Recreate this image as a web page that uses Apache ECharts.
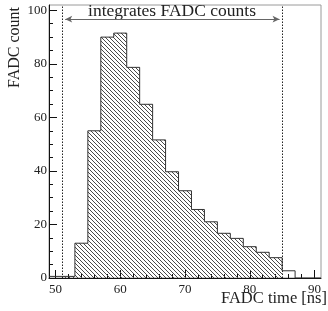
<!DOCTYPE html>
<html>
<head>
<meta charset="utf-8">
<script src="https://cdn.jsdelivr.net/npm/echarts@6/dist/echarts.min.js"></script>
<style>
  body, html { margin: 0; padding: 0; width: 100%; height: 100%; overflow: hidden; background: #fff; }
  #chart { width: 328px; height: 311px; }
</style>
</head>
<body>
<div id="chart"></div>
<script>
// histogram: 2 ns bins from 49 to 91 ns
var binEdges = [49, 51, 53, 55, 57, 59, 61, 63, 65, 67, 69, 71, 73, 75, 77, 79, 81, 83, 85, 87, 89, 91];
var binCounts = [0.6, 0.6, 13, 55, 90, 91.5, 78.7, 64.9, 51.6, 39.7, 32.6, 25.6, 21, 16.7, 14.8, 11.7, 9.6, 7.6, 2.7, 0, 0];
// integration window (dotted lines + arrow)
var windowEdges = [51, 85];
var arrowEnds = [51.5, 84.6];
var arrowLevel = 96.7;
var windowText = 'integrates FADC counts';
// ticks
var xMajor = [50, 60, 70, 80, 90];
var xMinor = [50, 52, 54, 56, 58, 60, 62, 64, 66, 68, 70, 72, 74, 76, 78, 80, 82, 84, 86, 88, 90];
var yMajor = [0, 20, 40, 60, 80, 100];
var yMinor = [0, 5, 10, 15, 20, 25, 30, 35, 40, 45, 50, 55, 60, 65, 70, 75, 80, 85, 90, 95, 100];

var serif = "'Liberation Serif', 'DejaVu Serif', serif";

// step outline over all bins
var outline = binEdges.slice(0, -1).map(function (e, i) { return [e, binCounts[i]]; });
outline.push([binEdges[binEdges.length - 1], binCounts[binCounts.length - 1]]);

// hatched part: bins inside the window
var hatched = [];
binEdges.slice(0, -1).forEach(function (e, i) {
  if (e >= windowEdges[0] && binEdges[i + 1] <= windowEdges[1]) hatched.push([e, binCounts[i]]);
});
hatched.push([windowEdges[1], hatched[hatched.length - 1][1]]);

// "\\\\" hatch pattern
var pat = document.createElement('canvas');
pat.width = 4; pat.height = 4;
var ctx = pat.getContext('2d');
ctx.fillStyle = '#4a4a4a';
for (var i = 0; i < 4; i++) ctx.fillRect(i, i, 1, 1);

var chart = echarts.init(document.getElementById('chart'));
chart.setOption({
  animation: false,
  grid: { left: 49, right: 7, top: 5, bottom: 33, show: true, borderColor: '#9a9a9a', borderWidth: 1 },
  xAxis: [{
    type: 'value', min: 49, max: 91,
    axisLine: { show: true, lineStyle: { color: '#111' } },
    axisTick: { show: true, inside: true, length: 8, customValues: xMajor, lineStyle: { color: '#111' } },
    axisLabel: { customValues: xMajor, margin: 5, fontFamily: serif, fontSize: 13, color: '#222' },
    splitLine: { show: false }
  }, {
    type: 'value', min: 49, max: 91, position: 'bottom',
    axisLine: { show: false },
    axisTick: { show: true, inside: true, length: 4, customValues: xMinor, lineStyle: { color: '#111' } },
    axisLabel: { show: false },
    splitLine: { show: false }
  }],
  yAxis: [{
    type: 'value', min: 0, max: 102,
    axisLine: { show: true, lineStyle: { color: '#111' } },
    axisTick: { show: true, inside: true, length: 8, customValues: yMajor, lineStyle: { color: '#111' } },
    axisLabel: { customValues: yMajor, margin: 2, fontFamily: serif, fontSize: 13, color: '#222' },
    splitLine: { show: false }
  }, {
    type: 'value', min: 0, max: 102, position: 'left',
    axisLine: { show: false },
    axisTick: { show: true, inside: true, length: 4, customValues: yMinor, lineStyle: { color: '#111' } },
    axisLabel: { show: false },
    splitLine: { show: false }
  }],
  graphic: [{
    id: 'yname', type: 'text', x: 15, y: 7, rotation: Math.PI / 2,
    style: { text: 'FADC count', font: '16px ' + serif, fill: '#222', align: 'right', verticalAlign: 'middle' }
  }, {
    id: 'xname', type: 'text', right: 1, top: 290,
    style: { text: 'FADC time [ns]', font: '16.5px ' + serif, fill: '#222' }
  }],
  series: [{
    type: 'line', step: 'end', data: hatched, symbol: 'none',
    lineStyle: { width: 0 },
    areaStyle: { color: { image: pat, repeat: 'repeat' }, opacity: 1 },
    silent: true, z: 1
  }, {
    type: 'line', step: 'end', data: outline, symbol: 'none',
    lineStyle: { width: 1, color: '#333' },
    silent: true, z: 2,
    markLine: {
      silent: true, symbol: 'none',
      lineStyle: { type: [1.5, 1.5], color: '#222', width: 1 },
      label: { show: false },
      data: windowEdges.map(function (v) { return { xAxis: v }; })
    }
  }, {
    type: 'line', data: [], silent: true,
    markLine: {
      silent: true, symbol: ['arrow', 'arrow'], symbolSize: [5, 7],
      lineStyle: { type: 'solid', color: '#666', width: 1 },
      label: { show: false },
      data: [[{ coord: [arrowEnds[0], arrowLevel] }, { coord: [arrowEnds[1], arrowLevel] }]]
    }
  }]
});

// window caption, centred over the arrow
var mid = chart.convertToPixel({ xAxisIndex: 0, yAxisIndex: 0 }, [(windowEdges[0] + windowEdges[1]) / 2, arrowLevel]);
chart.setOption({
  graphic: [{
    id: 'caption', type: 'text', x: mid[0], y: mid[1] - 7.5,
    style: { text: windowText, font: '17.5px ' + serif, fill: '#222', align: 'center', verticalAlign: 'middle' }
  }]
});
</script>
</body>
</html>
